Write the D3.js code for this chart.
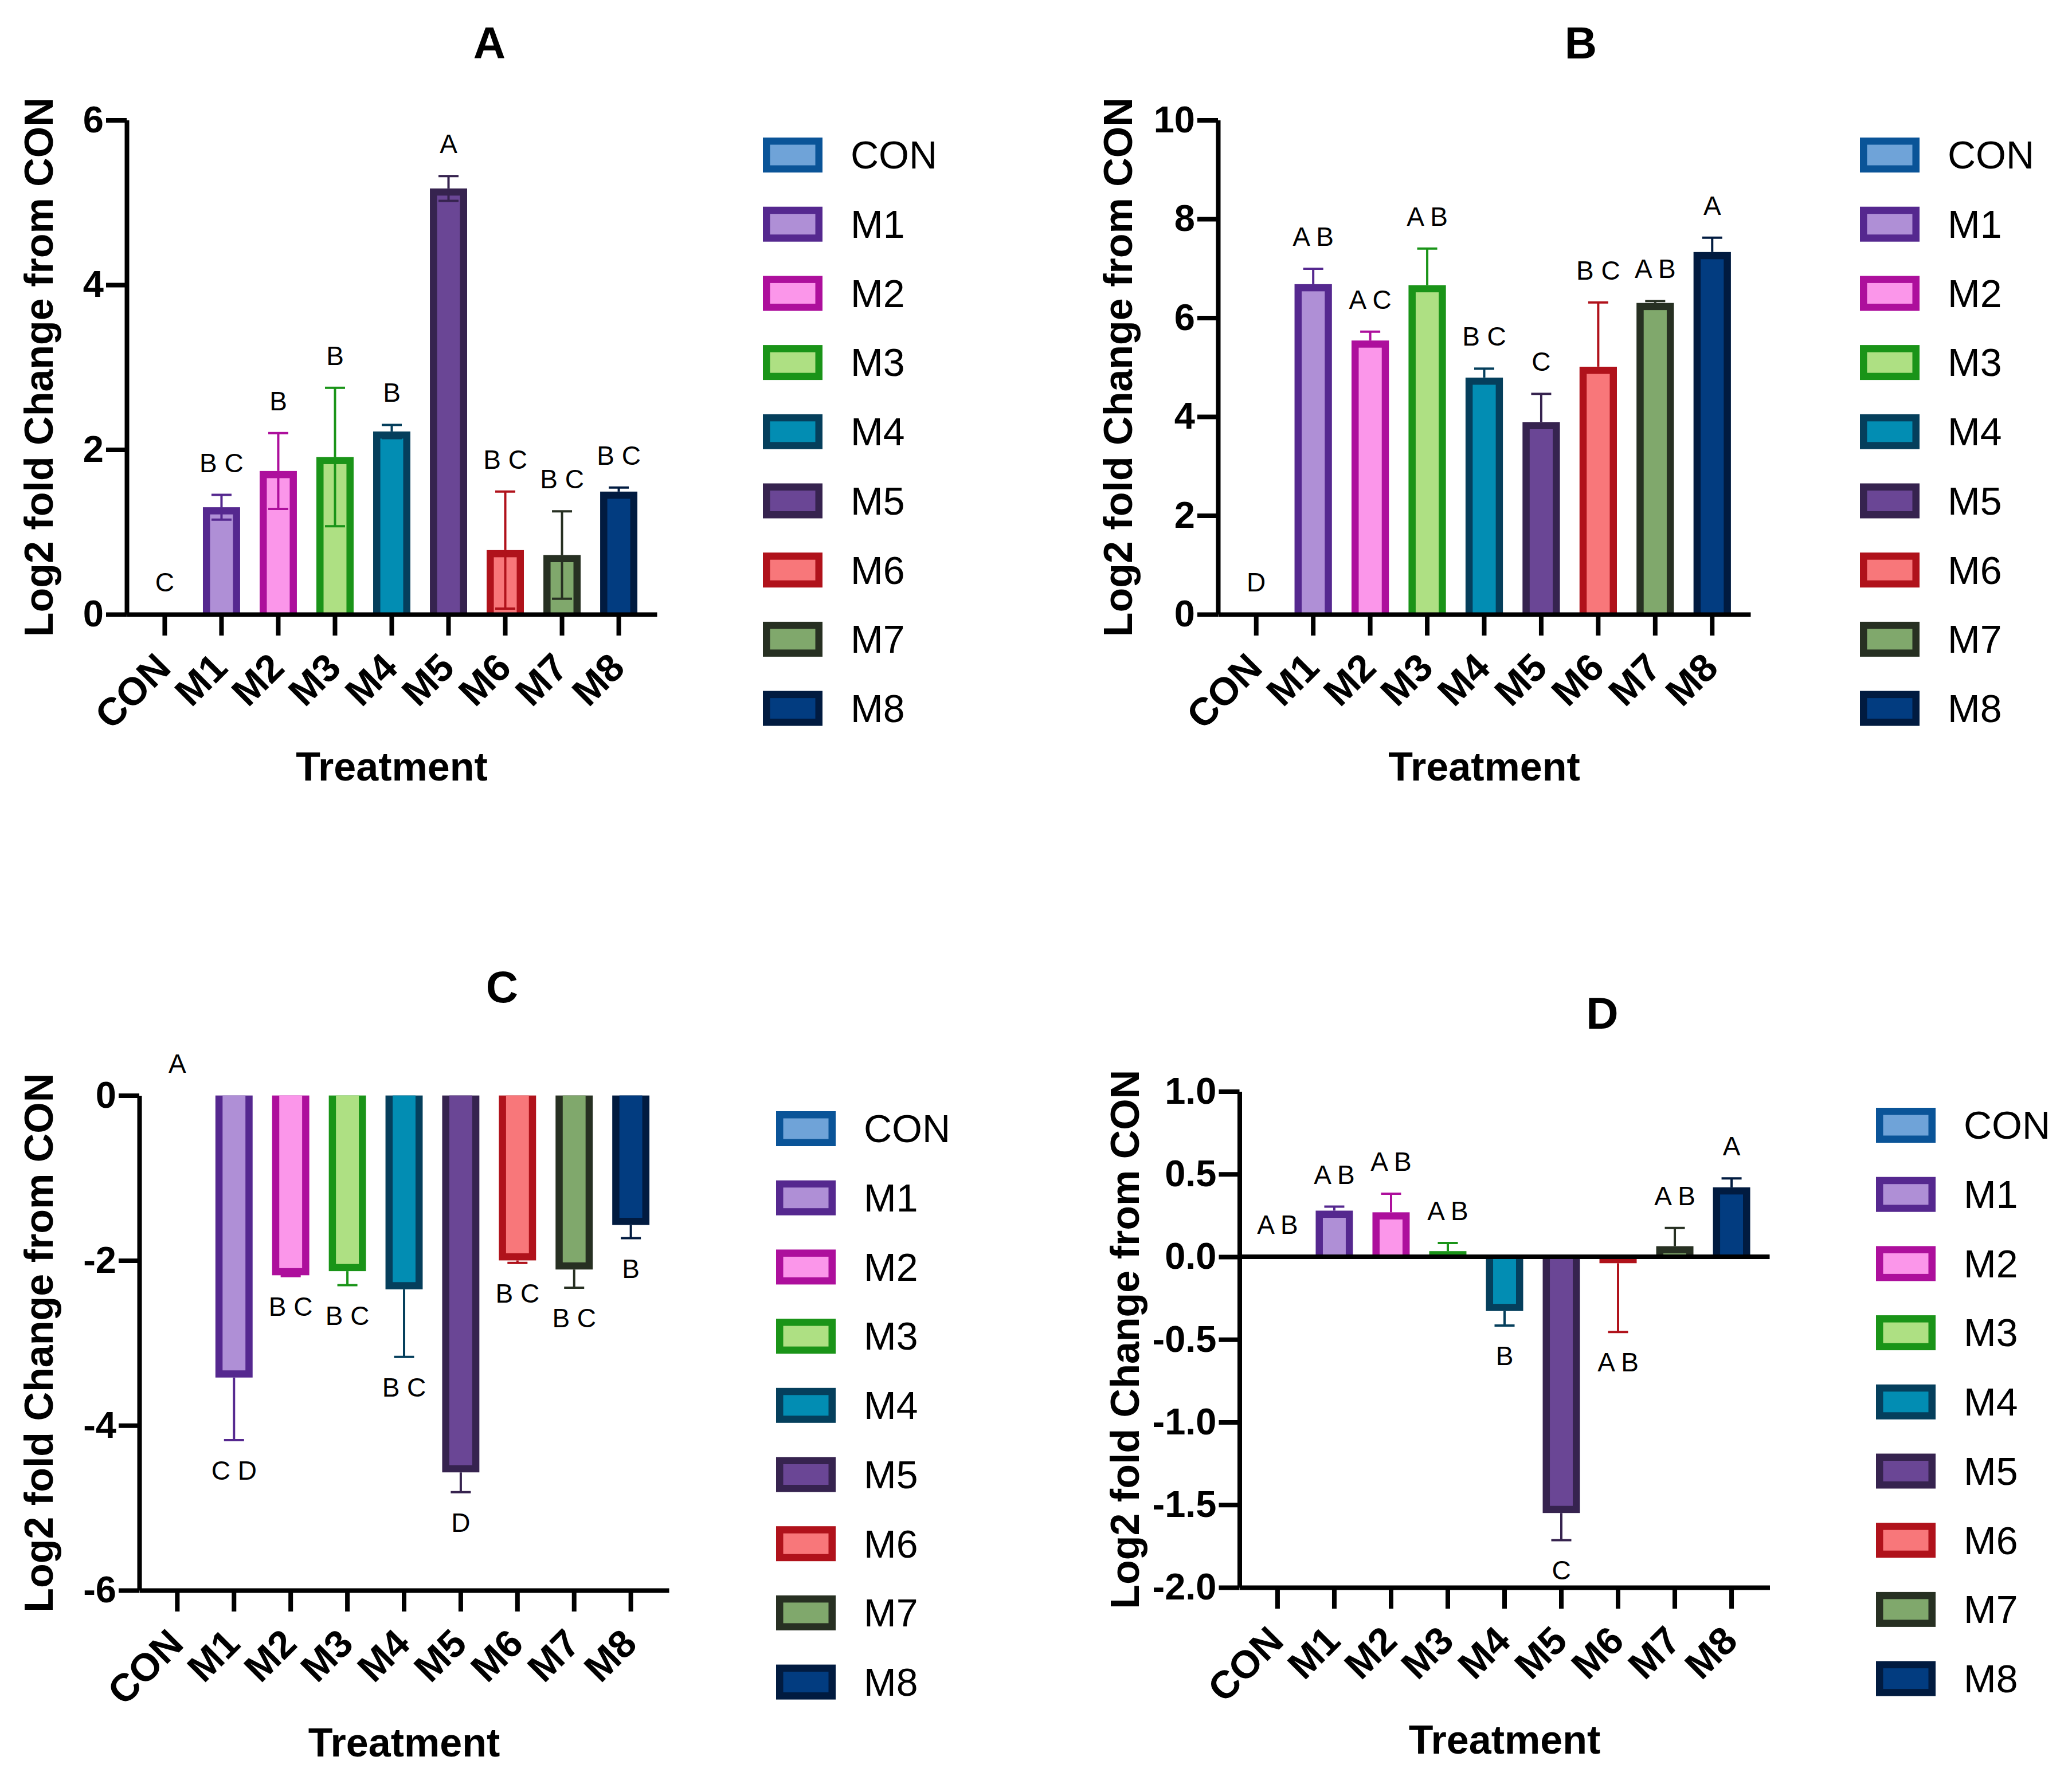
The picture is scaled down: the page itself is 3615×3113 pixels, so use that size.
<!DOCTYPE html>
<html>
<head>
<meta charset="utf-8">
<script src="https://cdn.jsdelivr.net/npm/d3@7"></script>
<style>
  body { margin: 0; background: #fff; }
  text { font-family: "Liberation Sans", Arial, Helvetica, sans-serif; }
</style>
</head>
<body>
<svg id="chart"></svg>
<script>
// treatments, shared by all four panels
const categories = ["CON", "M1", "M2", "M3", "M4", "M5", "M6", "M7", "M8"];

// bar fill and outline colours, one per treatment
const fillColors = ["#6fa3d8", "#af8fd6", "#fb96ea", "#aee083", "#028db3", "#6a4695", "#f8777a", "#80a86c", "#023c80"];
const edgeColors = ["#0a5498", "#55288f", "#ad0f9c", "#1a9418", "#053f5c", "#36234f", "#b0121b", "#273022", "#011b40"];

// panel A
const meanA = [0, 1.30, 1.74, 1.91, 2.22, 5.17, 0.78, 0.72, 1.49];
const semA = [0, 0.15, 0.46, 0.84, 0.08, 0.15, 0.71, 0.53, 0.05];
const lettersA = ["C", "B C", "B", "B", "B", "A", "B C", "B C", "B C"];
const ticksA = [0, 2, 4, 6];

// panel B
const meanB = [0, 6.68, 5.54, 6.66, 4.79, 3.89, 5.01, 6.30, 7.33];
const semB = [0, 0.31, 0.18, 0.74, 0.18, 0.57, 1.30, 0.04, 0.29];
const lettersB = ["D", "A B", "A C", "A B", "B C", "C", "B C", "A B", "A"];
const ticksB = [0, 2, 4, 6, 8, 10];

// panel C
const meanC = [0, -3.42, -2.18, -2.13, -2.35, -4.57, -2.00, -2.11, -1.57];
const semC = [0, 0.76, 0.01, 0.17, 0.82, 0.24, 0.03, 0.22, 0.16];
const lettersC = ["A", "C D", "B C", "B C", "B C", "D", "B C", "B C", "B"];
const ticksC = [0, -2, -4, -6];

// panel D
const meanD = [0, 0.279, 0.269, 0.034, -0.328, -1.55, -0.039, 0.064, 0.42];
const semD = [0, 0.024, 0.112, 0.049, 0.088, 0.164, 0.416, 0.110, 0.054];
const lettersD = ["A B", "A B", "A B", "A B", "B", "C", "A B", "A B", "A"];
const ticksD = [1, 0.5, 0, -0.5, -1, -1.5, -2];

const W = 3615, H = 3113;
const BORDER = 12.5;
const AXIS_W = 8;

const svg = d3.select("#chart").attr("width", W).attr("height", H);

const panels = [
    { title: "A", mean: meanA, sem: semA, letters: lettersA, ticks: ticksA, domain: [0, 6], fmt: d3.format("d"), both: true,
      axisX: 221, axisEnd: 1146, yTop: 209.5, yBottom: 1072, titleY: 102, labelX: 42, legendX: 1331, legendY: 240 },
    { title: "B", mean: meanB, sem: semB, letters: lettersB, ticks: ticksB, domain: [0, 10], fmt: d3.format("d"), both: false,
      axisX: 2125, axisEnd: 3054, yTop: 209.5, yBottom: 1072, titleY: 102, labelX: 1925, legendX: 3245, legendY: 240 },
    { title: "C", mean: meanC, sem: semC, letters: lettersC, ticks: ticksC, domain: [-6, 0], fmt: d3.format("d"), both: false,
      axisX: 243, axisEnd: 1167, yTop: 1911.6, yBottom: 2775, titleY: 1749, labelX: 42, legendX: 1354, legendY: 1939 },
    { title: "D", mean: meanD, sem: semD, letters: lettersD, ticks: ticksD, domain: [-2, 1], fmt: d3.format(".1f"), both: false,
      axisX: 2162.5, axisEnd: 3087.5, yTop: 1904.5, yBottom: 2770, titleY: 1795, labelX: 1937, legendX: 3273, legendY: 1933 }
];

panels.forEach(drawPanel);

function drawPanel(p) {
    let g = svg.append("g").attr("class", "panel-" + p.title);

    let x = d3.scaleBand()
        .domain(categories)
        .range([p.axisX, p.axisEnd])
        .paddingInner(0.344)
        .paddingOuter(0.343);

    let y = d3.scaleLinear()
        .domain(p.domain)
        .range([p.yBottom, p.yTop]);

    // bars: dark outline rect with lighter inner fill, open on the zero side
    p.mean.forEach((v, i) => {
        if (v === 0) return;
        let x0 = x(categories[i]);
        let bw = x.bandwidth();
        let top = y(Math.max(v, 0));
        let bottom = y(Math.min(v, 0));
        let h = bottom - top;

        g.append("rect")
            .attr("x", x0).attr("y", top)
            .attr("width", bw).attr("height", h)
            .attr("fill", edgeColors[i]);

        if (h > BORDER) {
            let innerTop = v > 0 ? top + BORDER : top;
            g.append("rect")
                .attr("x", x0 + BORDER).attr("y", innerTop)
                .attr("width", bw - 2 * BORDER).attr("height", h - BORDER)
                .attr("fill", fillColors[i]);
        }
    });

    // error bars (A shows both arms, the others only the outer one)
    p.mean.forEach((v, i) => {
        let s = p.sem[i];
        if (v === 0 || s <= 0) return;
        let cx = x(categories[i]) + x.bandwidth() / 2;
        let sign = v >= 0 ? 1 : -1;
        let ends = [v + sign * s];
        if (p.both) ends.push(v - sign * s);
        ends.forEach(e => {
            g.append("line")
                .attr("x1", cx).attr("x2", cx)
                .attr("y1", y(v)).attr("y2", y(e))
                .attr("stroke", edgeColors[i]).attr("stroke-width", 4);
            g.append("line")
                .attr("x1", cx - 17.5).attr("x2", cx + 17.5)
                .attr("y1", y(e)).attr("y2", y(e))
                .attr("stroke", edgeColors[i]).attr("stroke-width", 4);
        });
    });

    // significance letters
    p.mean.forEach((v, i) => {
        let s = p.sem[i];
        let cx = x(categories[i]) + x.bandwidth() / 2;
        let ty = v >= 0 ? y(v + s) - 40 : y(v - s) + 69;
        g.append("text")
            .attr("x", cx).attr("y", ty)
            .attr("text-anchor", "middle")
            .attr("font-size", 46)
            .attr("fill", "#000")
            .text(p.letters[i]);
    });

    // zero line for panels with negative values
    if (p.domain[0] < 0 && p.domain[1] > 0) {
        g.append("line")
            .attr("x1", p.axisX).attr("x2", p.axisEnd)
            .attr("y1", y(0)).attr("y2", y(0))
            .attr("stroke", "#000").attr("stroke-width", AXIS_W);
    }

    // y axis
    let yAxis = g.append("g")
        .attr("transform", `translate(${p.axisX},0)`)
        .call(d3.axisLeft(y)
            .tickValues(p.ticks)
            .tickSize(36)
            .tickSizeOuter(0)
            .tickPadding(4)
            .tickFormat(d => p.fmt(d).replace("\u2212", "-")));
    yAxis.selectAll("path, line").attr("stroke", "#000").attr("stroke-width", AXIS_W);
    yAxis.attr("font-family", null).attr("font-size", null);
    yAxis.selectAll("text")
        .attr("font-size", 65)
        .attr("font-weight", "bold")
        .attr("fill", "#000");

    // category axis at the bottom
    let xAxis = g.append("g")
        .attr("transform", `translate(0,${p.yBottom})`)
        .call(d3.axisBottom(x).tickSize(37).tickSizeOuter(0));
    xAxis.selectAll("path, line").attr("stroke", "#000").attr("stroke-width", AXIS_W);
    xAxis.attr("font-family", null).attr("font-size", null);
    xAxis.selectAll("text")
        .attr("x", 0).attr("y", 0).attr("dy", 0)
        .attr("transform", "translate(14,97) rotate(-45)")
        .attr("text-anchor", "end")
        .attr("font-size", 68)
        .attr("font-weight", "bold")
        .attr("fill", "#000");

    // axis titles
    g.append("text")
        .attr("transform", `translate(${p.labelX + 50},${(p.yTop + p.yBottom) / 2}) rotate(-90)`)
        .attr("text-anchor", "middle")
        .attr("font-size", 70)
        .attr("font-weight", "bold")
        .text("Log2 fold Change from CON");

    g.append("text")
        .attr("x", (p.axisX + p.axisEnd) / 2)
        .attr("y", p.yBottom + 290)
        .attr("text-anchor", "middle")
        .attr("font-size", 70)
        .attr("font-weight", "bold")
        .text("Treatment");

    g.append("text")
        .attr("x", p.axisX + 633)
        .attr("y", p.titleY)
        .attr("text-anchor", "middle")
        .attr("font-size", 78)
        .attr("font-weight", "bold")
        .text(p.title);

    // legend
    let legend = g.append("g").attr("transform", `translate(${p.legendX},${p.legendY})`);
    categories.forEach((c, i) => {
        let row = legend.append("g").attr("transform", `translate(0,${i * 120.7})`);
        row.append("rect")
            .attr("x", 0).attr("y", 0).attr("width", 104).attr("height", 61)
            .attr("fill", edgeColors[i]);
        row.append("rect")
            .attr("x", BORDER).attr("y", BORDER)
            .attr("width", 104 - 2 * BORDER).attr("height", 61 - 2 * BORDER)
            .attr("fill", fillColors[i]);
        row.append("text")
            .attr("x", 153).attr("y", 30.5).attr("dy", "0.35em")
            .attr("font-size", 68)
            .text(c);
    });
}
</script>
</body>
</html>
